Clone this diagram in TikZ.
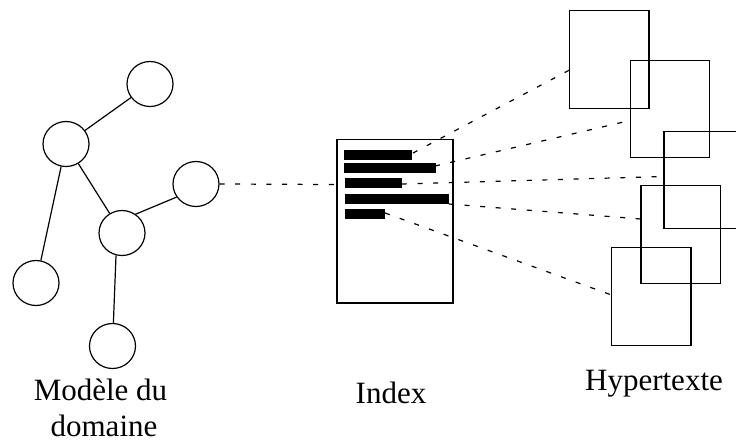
\documentclass[tikz,border=0pt]{standalone}
\usepackage{fontspec}
\setmainfont{Liberation Serif}
\usetikzlibrary{shapes.geometric}
\tikzset{
  x=1pt,y=-1pt,
  dom/.style={draw=black,ellipse,line width=1.2pt,inner sep=0pt,minimum width=46pt,minimum height=45pt},
  page/.style={draw=black,line width=1.2pt,inner sep=0pt,minimum width=79.5pt,minimum height=97.5pt},
  bar/.style={fill=black,inner sep=0pt,minimum height=10pt},
  link/.style={line width=1.2pt},
  dlink/.style={line width=1.2pt,dash pattern=on 5pt off 10.6pt},
  lab/.style={font=\fontsize{31pt}{35.5pt}\selectfont,align=center,inner sep=0pt,text=black}
}
\begin{document}
\begin{tikzpicture}
\useasboundingbox (0,0) rectangle (736,442);
\clip (0,0) rectangle (736,442);
\node[dom] (a) at (150,84) {};
\node[dom] (b) at (66,144) {};
\node[dom] (c) at (196,184) {};
\node[dom] (d) at (122,233) {};
\node[dom] (e) at (36,283) {};
\node[dom] (f) at (112.5,346) {};
\draw[link] (a) -- (b);
\draw[link] (b) -- (d);
\draw[link] (b) -- (e);
\draw[link] (c.214) -- (d.54);
\draw[link] (d.255) -- (f);
\node[draw=black,line width=1.2pt,inner sep=0pt,minimum width=116pt,minimum height=163.5pt] (idx) at (395,221.25) {};
\node[bar,minimum width=68pt] (b1) at (378,155) {};
\node[bar,minimum width=92pt] (b2) at (389.5,168) {};
\node[bar,minimum width=57pt] (b3) at (373.5,183) {};
\node[bar,minimum width=104pt] (b4) at (397,199) {};
\node[bar,minimum width=40pt] (b5) at (365,214) {};
\node[page] (r1) at (609.25,59.5) {};
\node[page] (r2) at (670,109) {};
\node[page,minimum width=100pt] (r3) at (714,180) {};
\node[page] (r4) at (680.75,234.5) {};
\node[page] (r5) at (651.25,296.5) {};
\coordinate (r1w) at (569.5,70);
\coordinate (r2w) at (630,120.5);
\coordinate (r3w) at (664,176.5);
\coordinate (r4w) at (641,219);
\coordinate (r5w) at (611.5,295);
\coordinate (c1) at (413,153);
\coordinate (c2) at (435,166);
\coordinate (c3) at (402,184);
\coordinate (c4) at (449,204);
\coordinate (c5) at (385,213);
\coordinate (i0) at (337,184.5);
\draw[dlink] (c.east) -- (i0);
\draw[dlink] (c1) -- (r1w);
\draw[dlink] (c2) -- (r2w);
\draw[dlink] (c3) -- (r3w);
\draw[dlink] (c4) -- (r4w);
\draw[dlink] (c5) -- (r5w);
\node[lab] (t1) at (100.5,408) {Modèle du\\\hspace*{7pt}domaine};
\node[lab] (t2) at (391,393) {Index};
\node[lab] (t3) at (654,384) {Hypertexte};
\end{tikzpicture}
\end{document}
